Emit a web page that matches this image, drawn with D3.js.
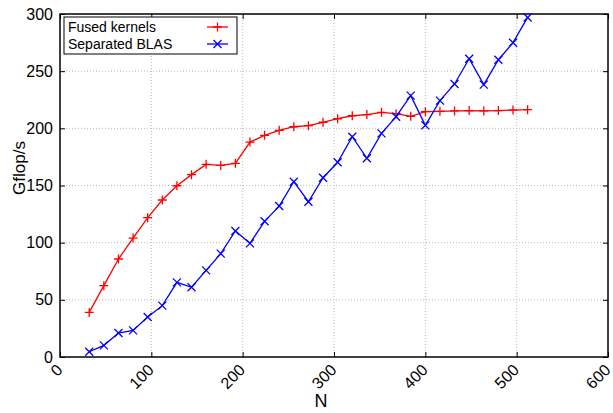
<!DOCTYPE html>
<html>
<head>
<meta charset="utf-8">
<script src="https://cdn.jsdelivr.net/npm/d3@7"></script>
<style>
  body { margin: 0; background: #fff; }
  text { font-family: "Liberation Sans", Arial, sans-serif; }
</style>
</head>
<body>
<div id="chart"></div>
<script>
const nValues = [32, 48, 64, 80, 96, 112, 128, 144, 160, 176, 192, 208, 224, 240, 256,
  272, 288, 304, 320, 336, 352, 368, 384, 400, 416, 432, 448, 464, 480, 496, 512];
const fused = [39, 62.4, 85.7, 104, 121.9, 137.3, 149.8, 159.5, 168.5, 167.6, 169.4, 188, 193.9, 198.3, 201.4,
  202.3, 205.3, 208.4, 211, 212, 214, 212.8, 210.5, 214.6, 214.9, 215.2, 215.5, 215.2, 215.5, 216, 216.3];
const separated = [4.6, 10.2, 21, 23.3, 35, 44.9, 65.3, 61, 75.8, 90.4, 110.2, 99.4, 118.7, 132, 153.3,
  135.8, 156.8, 170.3, 192.7, 173.8, 195.6, 210.2, 228.6, 202.6, 224.2, 238.8, 260.9, 238.2, 260, 274.9, 297];
const xTicks = [0, 100, 200, 300, 400, 500, 600];
const yTicks = [0, 50, 100, 150, 200, 250, 300];

const svgWidth = 613, svgHeight = 413;
const margin = { top: 14, right: 5, bottom: 56, left: 60 };
const width = svgWidth - margin.left - margin.right;
const height = svgHeight - margin.top - margin.bottom;

const svg = d3.select("#chart").append("svg")
  .attr("width", svgWidth)
  .attr("height", svgHeight);

const chart = svg.append("g")
  .attr("transform", `translate(${margin.left}, ${margin.top})`);

const x = d3.scaleLinear().domain([0, 600]).range([0, width]);
const y = d3.scaleLinear().domain([0, 300]).range([height, 0]);

// grid
chart.selectAll(".gx").data(xTicks.slice(1, -1)).enter().append("line")
  .attr("x1", d => x(d)).attr("x2", d => x(d))
  .attr("y1", 0).attr("y2", height)
  .attr("stroke", "#bbb").attr("stroke-dasharray", "1,2");
chart.selectAll(".gy").data(yTicks.slice(1, -1)).enter().append("line")
  .attr("y1", d => y(d)).attr("y2", d => y(d))
  .attr("x1", 0).attr("x2", width)
  .attr("stroke", "#bbb").attr("stroke-dasharray", "1,2");

// axes (inward ticks on all sides)
const bottom = chart.append("g").attr("transform", `translate(0, ${height})`)
  .call(d3.axisBottom(x).tickValues(xTicks).tickSizeInner(-5).tickSizeOuter(0));
bottom.selectAll("text")
  .attr("x", 0).attr("y", 0).attr("dy", 0)
  .attr("text-anchor", "end")
  .attr("font-size", 16)
  .attr("fill", "#000")
  .attr("transform", "translate(3,14) rotate(-45)");
chart.append("g")
  .call(d3.axisTop(x).tickValues(xTicks).tickSizeInner(-5).tickSizeOuter(0).tickFormat(""));
const left = chart.append("g")
  .call(d3.axisLeft(y).tickValues(yTicks).tickSizeInner(-5).tickSizeOuter(0).tickPadding(7));
left.selectAll("text").attr("font-size", 16).attr("fill", "#000");
chart.append("g").attr("transform", `translate(${width}, 0)`)
  .call(d3.axisRight(y).tickValues(yTicks).tickSizeInner(-5).tickSizeOuter(0).tickFormat(""));
chart.selectAll(".domain").remove();
chart.selectAll(".tick line").attr("stroke", "#000");

chart.append("rect")
  .attr("width", width).attr("height", height)
  .attr("fill", "none").attr("stroke", "#000").attr("stroke-width", 1.5);

// series
const series = [
  { name: "Fused kernels", values: fused, color: "#ff0000", marker: "plus" },
  { name: "Separated BLAS", values: separated, color: "#0000ff", marker: "cross" }
];

function markerPath(type, s) {
  if (type === "plus") return `M${-s},0H${s}M0,${-s}V${s}`;
  return `M${-s},${-s}L${s},${s}M${-s},${s}L${s},${-s}`;
}

const line = d3.line().x((d, i) => x(nValues[i])).y(d => y(d));

series.forEach(s => {
  chart.append("path")
    .datum(s.values)
    .attr("fill", "none")
    .attr("stroke", s.color)
    .attr("stroke-width", 1.3)
    .attr("d", line);
  chart.selectAll(null).data(s.values).enter().append("path")
    .attr("transform", (d, i) => `translate(${x(nValues[i])}, ${y(d)})`)
    .attr("d", markerPath(s.marker, s.marker === "plus" ? 4.5 : 4))
    .attr("stroke", s.color)
    .attr("stroke-width", 1.3)
    .attr("fill", "none");
});

// legend
const legend = chart.append("g").attr("transform", "translate(4, 3)");
legend.append("rect")
  .attr("width", 173).attr("height", 37)
  .attr("fill", "#fff").attr("stroke", "#000").attr("stroke-width", 1);
series.forEach((s, i) => {
  const ly = 10 + i * 17;
  legend.append("text")
    .attr("x", 4).attr("y", ly).attr("dy", "0.35em")
    .attr("font-size", 14).attr("fill", "#000")
    .text(s.name);
  legend.append("line")
    .attr("x1", 143).attr("x2", 164).attr("y1", ly).attr("y2", ly)
    .attr("stroke", s.color).attr("stroke-width", 1.3);
  legend.append("path")
    .attr("transform", `translate(153.5, ${ly})`)
    .attr("d", markerPath(s.marker, s.marker === "plus" ? 4.5 : 4))
    .attr("stroke", s.color).attr("stroke-width", 1.3);
});

// axis labels
svg.append("text")
  .attr("x", 321).attr("y", 407)
  .attr("text-anchor", "middle").attr("font-size", 18)
  .text("N");
svg.append("text")
  .attr("transform", "translate(25, 168) rotate(-90)")
  .attr("text-anchor", "middle").attr("font-size", 17)
  .text("Gflop/s");
</script>
</body>
</html>
